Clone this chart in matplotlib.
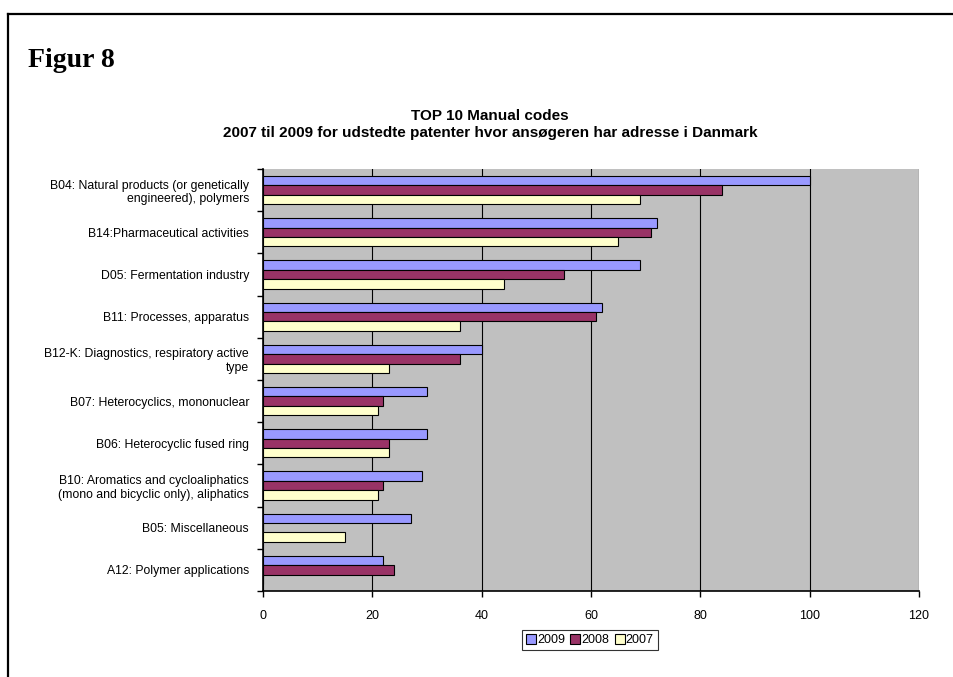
import numpy as np
import matplotlib
matplotlib.use("Agg")
import matplotlib.pyplot as plt
from matplotlib.lines import Line2D

# Top 10 manual codes, patents granted 2007-2009 (top of chart first)
categories = [
    "B04: Natural products (or genetically\nengineered), polymers",
    "B14:Pharmaceutical activities",
    "D05: Fermentation industry",
    "B11: Processes, apparatus",
    "B12-K: Diagnostics, respiratory active\ntype",
    "B07: Heterocyclics, mononuclear",
    "B06: Heterocyclic fused ring",
    "B10: Aromatics and cycloaliphatics\n(mono and bicyclic only), aliphatics",
    "B05: Miscellaneous",
    "A12: Polymer applications",
]
years = ["2009", "2008", "2007"]
v2009 = [100, 72, 69, 62, 40, 30, 30, 29, 27, 22]
v2008 = [84, 71, 55, 61, 36, 22, 23, 22, 0, 24]
v2007 = [69, 65, 44, 36, 23, 21, 23, 21, 15, 0]
colors = ["#9999FF", "#993366", "#FFFFCC"]

plt.rcParams["font.family"] = ["Liberation Sans", "DejaVu Sans"]

W, H = 954, 677
fig = plt.figure(figsize=(W / 100, H / 100), dpi=100)
ax = fig.add_axes([263 / W, 1 - 591 / H, (919 - 263) / W, (591 - 169) / H])
ax.set_facecolor("#C0C0C0")

n = len(categories)
centers = np.arange(n) + 0.5
h = 2 / 9
for k, (vals, col) in enumerate(zip([v2009, v2008, v2007], colors)):
    ax.barh(centers + (k - 1) * h, vals, height=h, color=col,
            edgecolor="black", linewidth=0.8, zorder=3)

ax.set_xlim(0, 120)
ax.set_ylim(n, 0)
ax.set_xticks(np.arange(0, 121, 20))
ax.grid(axis="x", color="black", linewidth=0.8, zorder=1)

# category boundaries carry the tick marks, labels sit in between
ax.set_yticks(np.arange(0, n + 1))
ax.set_yticklabels([])
ax.set_yticks(centers, minor=True)
ax.set_yticklabels(categories, minor=True, fontsize=8.8, multialignment="right")
ax.tick_params(axis="y", which="minor", length=0, pad=10)
ax.tick_params(axis="y", which="major", length=4, width=1)
ax.tick_params(axis="x", length=4, width=1, labelsize=9, pad=10)

for side in ["top", "right"]:
    ax.spines[side].set_visible(False)
ax.spines["left"].set_linewidth(1.2)
ax.spines["bottom"].set_linewidth(1.2)

fig.text(490 / W, 1 - 116 / H, "TOP 10 Manual codes",
         ha="center", va="center", fontsize=11, fontweight="bold")
fig.text(490 / W, 1 - 133 / H,
         "2007 til 2009 for udstedte patenter hvor ansøgeren har adresse i Danmark",
         ha="center", va="center", fontsize=11, fontweight="bold")
fig.text(28 / W, 1 - 67 / H, "Figur 8", ha="left", va="baseline",
         fontsize=20, fontweight="bold", family="Liberation Serif")

handles = [Line2D([], [], marker="s", linestyle="none", markersize=6.5,
                  markerfacecolor=c, markeredgecolor="black", markeredgewidth=0.8)
           for c in colors]
leg = fig.legend(handles, years, loc="center", ncol=3,
                 bbox_to_anchor=(590 / W, 1 - 640 / H), fontsize=9,
                 frameon=True, fancybox=False, edgecolor="black",
                 handletextpad=0.1, columnspacing=0.4, borderpad=0.3,
                 handlelength=0.8)
leg.get_frame().set_linewidth(0.8)

# outer frame lines
fig.add_artist(Line2D([8 / W, 1], [1 - 14 / H, 1 - 14 / H], color="black", linewidth=1.6))
fig.add_artist(Line2D([8 / W, 8 / W], [0, 1 - 14 / H], color="black", linewidth=1.6))

fig.savefig("out.png", dpi=100)
